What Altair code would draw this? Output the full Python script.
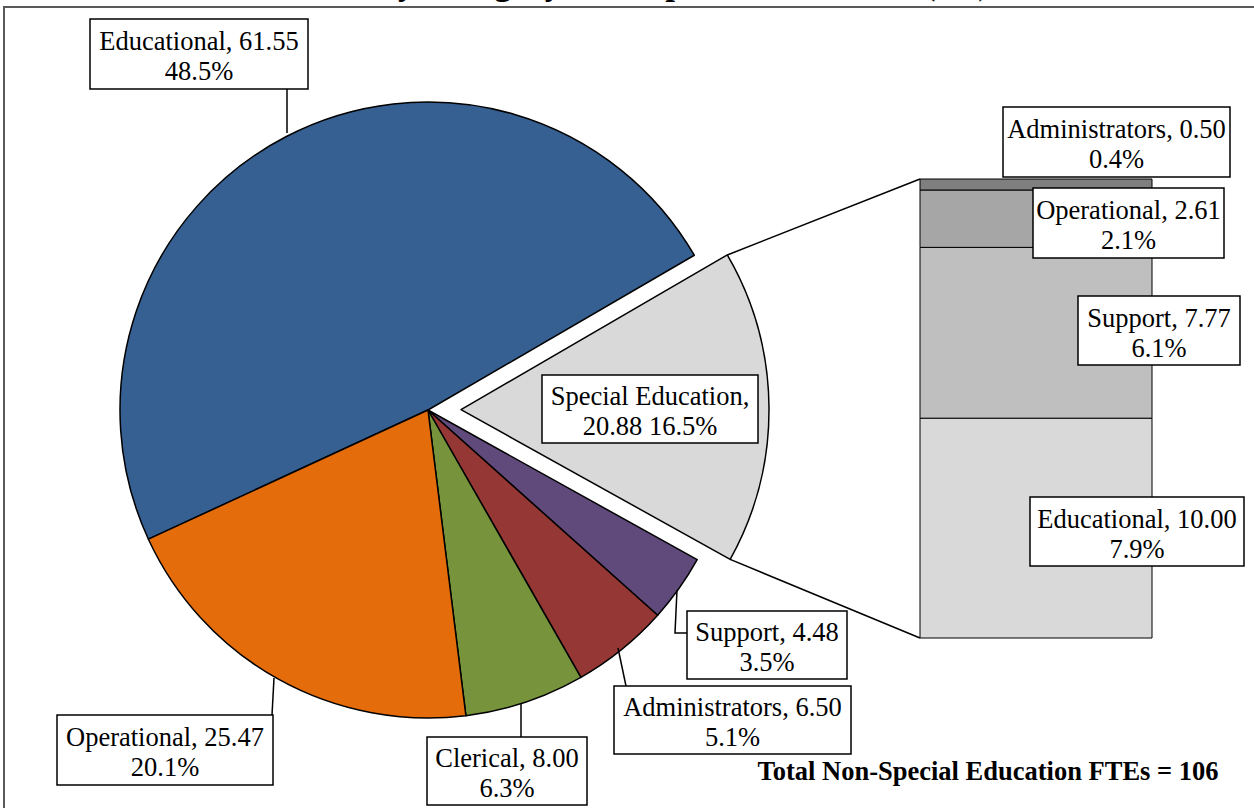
import altair as alt
import pandas as pd
import numpy as np

# ---------------- data ----------------
pie_categories = ["Educational", "Special Education", "Support", "Administrators", "Clerical", "Operational"]
pie_values = [61.55, 20.88, 4.48, 6.50, 8.00, 25.47]
pie_colors = ["#376092", "#D9D9D9", "#604A7B", "#953735", "#77933C", "#E46C0A"]

se_categories = ["Educational", "Support", "Operational", "Administrators"]
se_values = [10.00, 7.77, 2.61, 0.50]
se_colors = ["#D9D9D9", "#BFBFBF", "#A6A6A6", "#7F7F7F"]

title_text = "Chart 4: FTEs by Category with Special Education (SE) Breakout"
total_text = "Total Non-Special Education FTEs = 106"

# ---------------- layout (pixels) ----------------
W, H = 1254, 808
CX, CY, R = 428, 410, 308
EXPLODE = 33
START_DEG = -114.8
BAR_X0, BAR_X1, BAR_TOP, BAR_BOTTOM = 920, 1152, 179, 638
FONT = "Liberation Serif"
LINE_H = 30

pie_boxes = {
    "Educational": (90, 19, 308, 89),
    "Special Education": (542, 375, 758, 443),
    "Support": (687, 611, 847, 679),
    "Administrators": (614, 686, 851, 754),
    "Clerical": (427, 737, 587, 805),
    "Operational": (57, 715, 273, 785),
}
bar_boxes = {
    "Administrators": (1003, 107, 1230, 177),
    "Operational": (1033, 188, 1224, 258),
    "Support": (1078, 296, 1240, 365),
    "Educational": (1030, 497, 1244, 566),
}
leaders = {
    "Educational": [(287, 89), (287, 133)],
    "Operational": [(272, 715), (274, 678)],
    "Clerical": [(521, 737), (521, 703)],
    "Administrators": [(626, 686), (618, 648)],
    "Support": [(687, 633), (675, 633), (677, 590)],
}

# ---------------- derived tables ----------------
total = sum(pie_values)
start = np.deg2rad(START_DEG)

pie_df = pd.DataFrame({"cat": pie_categories, "val": pie_values})
pie_df["t1"] = pie_df["val"].cumsum()
pie_df["t0"] = pie_df["t1"] - pie_df["val"]

se_row = pie_df[pie_df["cat"] == "Special Education"].iloc[0]
a0 = start + 2 * np.pi * se_row["t0"] / total
a1 = start + 2 * np.pi * se_row["t1"] / total
amid = (a0 + a1) / 2
dx, dy = EXPLODE * np.sin(amid), -EXPLODE * np.cos(amid)
scx, scy = CX + dx, CY + dy

theta_scale = alt.Scale(domain=[0, total], range=[start, start + 2 * np.pi])
pie_color = alt.Color("cat:N", scale=alt.Scale(domain=pie_categories, range=pie_colors), legend=None)

pie_main = alt.Chart(pie_df).transform_filter(
    alt.datum.cat != "Special Education"
).mark_arc(outerRadius=R, stroke="black", strokeWidth=1.5, strokeJoin="round").encode(
    theta=alt.Theta("t0:Q", scale=theta_scale, stack=None),
    theta2="t1:Q",
    color=pie_color,
    x=alt.value(CX), y=alt.value(CY),
)
pie_se = alt.Chart(pie_df).transform_filter(
    alt.datum.cat == "Special Education"
).mark_arc(outerRadius=R, stroke="black", strokeWidth=1.5, strokeJoin="round").encode(
    theta=alt.Theta("t0:Q", scale=theta_scale, stack=None),
    theta2="t1:Q",
    color=pie_color,
    x=alt.value(scx), y=alt.value(scy),
)

se_total = sum(se_values)
se_df = pd.DataFrame({"seg": se_categories, "v": se_values})
se_df["b1"] = se_df["v"].cumsum()
se_df["b0"] = se_df["b1"] - se_df["v"]

bar = alt.Chart(se_df).mark_bar(stroke="black", strokeWidth=1).encode(
    x=alt.value(BAR_X0), x2=alt.value(BAR_X1),
    y=alt.Y("b0:Q", scale=alt.Scale(domain=[0, se_total], range=[BAR_BOTTOM, BAR_TOP]), axis=None),
    y2="b1:Q",
    color=alt.Color("seg:N", scale=alt.Scale(domain=se_categories, range=se_colors), legend=None),
)

# connectors between exploded slice and bar
conn_df = pd.DataFrame({
    "x": [scx + R * np.sin(a0), scx + R * np.sin(a1)],
    "y": [scy - R * np.cos(a0), scy - R * np.cos(a1)],
    "x2": [BAR_X0, BAR_X0],
    "y2": [BAR_TOP, BAR_BOTTOM],
})
conn = alt.Chart(conn_df).mark_rule(color="black", strokeWidth=1.5).encode(
    x=alt.X("x:Q", scale=None), y=alt.Y("y:Q", scale=None),
    x2="x2:Q", y2="y2:Q",
)

# frame
frame_df = pd.DataFrame({"x": [4], "y": [7], "x2": [W + 10], "y2": [H + 10]})
frame = alt.Chart(frame_df).mark_rect(fill="white", stroke="#595959", strokeWidth=2).encode(
    x=alt.X("x:Q", scale=None), y=alt.Y("y:Q", scale=None), x2="x2:Q", y2="y2:Q",
)

# labels
rows = []
for c, v in zip(pie_categories, pie_values):
    pct = v / total * 100
    if c == "Special Education":
        txt = f"{c},\n{v:.2f} {pct:.1f}%"
    else:
        txt = f"{c}, {v:.2f}\n{pct:.1f}%"
    bx = pie_boxes[c]
    rows.append({"x": bx[0], "y": bx[1], "x2": bx[2], "y2": bx[3], "label": txt,
                 "tx": (bx[0] + bx[2]) / 2, "ty": (bx[1] + bx[3]) / 2 - LINE_H / 2 + 3})
for c, v in zip(se_categories, se_values):
    pct = v / total * 100
    txt = f"{c}, {v:.2f}\n{pct:.1f}%"
    bx = bar_boxes[c]
    rows.append({"x": bx[0], "y": bx[1], "x2": bx[2], "y2": bx[3], "label": txt,
                 "tx": (bx[0] + bx[2]) / 2, "ty": (bx[1] + bx[3]) / 2 - LINE_H / 2 + 3})
lab_df = pd.DataFrame(rows)

boxes = alt.Chart(lab_df).mark_rect(fill="white", stroke="black", strokeWidth=1.5).encode(
    x=alt.X("x:Q", scale=None), y=alt.Y("y:Q", scale=None), x2="x2:Q", y2="y2:Q",
)
texts = alt.Chart(lab_df).mark_text(
    font=FONT, fontSize=26.5, lineHeight=LINE_H, baseline="middle", align="center",
    lineBreak="\n", color="black",
).encode(
    x=alt.X("tx:Q", scale=None), y=alt.Y("ty:Q", scale=None), text="label:N",
)

lead_rows = []
for c, pts in leaders.items():
    for k, (px, py) in enumerate(pts):
        lead_rows.append({"id": c, "k": k, "x": px, "y": py})
lead_df = pd.DataFrame(lead_rows)
lead = alt.Chart(lead_df).mark_line(color="black", strokeWidth=1.5).encode(
    x=alt.X("x:Q", scale=None), y=alt.Y("y:Q", scale=None),
    detail="id:N", order="k:Q",
)

title = alt.Chart(pd.DataFrame({"t": [title_text]})).mark_text(
    font=FONT, fontSize=35, fontWeight="bold", baseline="alphabetic", align="center", color="black",
).encode(x=alt.value(645), y=alt.value(-6), text="t:N")

total_lbl = alt.Chart(pd.DataFrame({"t": [total_text]})).mark_text(
    font=FONT, fontSize=26.5, fontWeight="bold", baseline="middle", align="center", color="black",
).encode(x=alt.value(988), y=alt.value(772), text="t:N")

chart = alt.layer(
    frame, pie_main, pie_se, conn, bar, lead, boxes, texts, title, total_lbl
).resolve_scale(
    x="independent", y="independent", color="independent", theta="independent"
).properties(
    width=W, height=H, padding=0, autosize=alt.AutoSizeParams(type="none"), background="white"
).configure_view(stroke=None)

chart.save("out.html", embed_options={"renderer": "svg", "actions": False})
